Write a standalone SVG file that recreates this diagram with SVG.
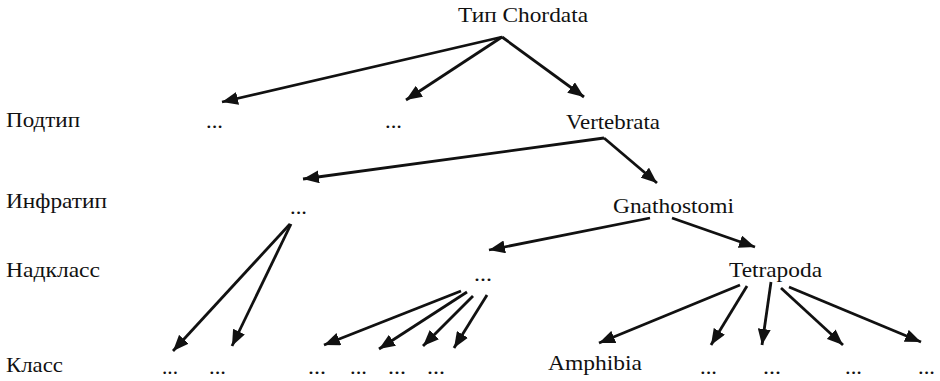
<svg xmlns="http://www.w3.org/2000/svg" width="940" height="381" viewBox="0 0 940 381">
<style>
text{font-family:"Liberation Serif","Times New Roman",serif;font-size:22px;fill:#111}
.c line{stroke:#111;stroke-width:2.8;marker-end:url(#ah)}
</style>
<defs>
<marker id="ah" markerUnits="userSpaceOnUse" markerWidth="16" markerHeight="13" refX="16" refY="6.5" orient="auto">
<path d="M0,0 L16,6.5 L0,13 Z" fill="#111"/>
</marker>
</defs>
<rect width="940" height="381" fill="#fff"/>
<g id="levels">
<text x="6" y="127" textLength="74" lengthAdjust="spacingAndGlyphs">Подтип</text>
<text x="6" y="208" textLength="101" lengthAdjust="spacingAndGlyphs">Инфратип</text>
<text x="6" y="277" textLength="94" lengthAdjust="spacingAndGlyphs">Надкласс</text>
<text x="6" y="372" textLength="57" lengthAdjust="spacingAndGlyphs">Класс</text>
</g>
<g id="chordata"><text x="458" y="22" textLength="130" lengthAdjust="spacingAndGlyphs">Тип Chordata</text></g>
<g id="sub1"><text x="206" y="128" textLength="17" lengthAdjust="spacingAndGlyphs">...</text></g>
<g id="sub2"><text x="385" y="128" textLength="17" lengthAdjust="spacingAndGlyphs">...</text></g>
<g id="vertebrata"><text x="566" y="129" textLength="94" lengthAdjust="spacingAndGlyphs">Vertebrata</text></g>
<g id="infra1"><text x="290" y="214" textLength="17" lengthAdjust="spacingAndGlyphs">...</text></g>
<g id="gnathostomi"><text x="613" y="213" textLength="121" lengthAdjust="spacingAndGlyphs">Gnathostomi</text></g>
<g id="super1"><text x="474" y="281" textLength="18" lengthAdjust="spacingAndGlyphs">...</text></g>
<g id="tetrapoda"><text x="729" y="277" textLength="93" lengthAdjust="spacingAndGlyphs">Tetrapoda</text></g>
<g id="class1"><text x="162" y="374" textLength="16" lengthAdjust="spacingAndGlyphs">...</text></g>
<g id="class2"><text x="209" y="374" textLength="17" lengthAdjust="spacingAndGlyphs">...</text></g>
<g id="class3"><text x="308" y="374" textLength="18" lengthAdjust="spacingAndGlyphs">...</text></g>
<g id="class4"><text x="350" y="374" textLength="17" lengthAdjust="spacingAndGlyphs">...</text></g>
<g id="class5"><text x="388" y="374" textLength="18" lengthAdjust="spacingAndGlyphs">...</text></g>
<g id="class6"><text x="427" y="374" textLength="18" lengthAdjust="spacingAndGlyphs">...</text></g>
<g id="amphibia"><text x="548" y="370" textLength="94" lengthAdjust="spacingAndGlyphs">Amphibia</text></g>
<g id="class7"><text x="700" y="374" textLength="17" lengthAdjust="spacingAndGlyphs">...</text></g>
<g id="class8"><text x="763" y="374" textLength="18" lengthAdjust="spacingAndGlyphs">...</text></g>
<g id="class9"><text x="845" y="374" textLength="17" lengthAdjust="spacingAndGlyphs">...</text></g>
<g id="class10"><text x="918" y="374" textLength="17" lengthAdjust="spacingAndGlyphs">...</text></g>
<g id="connectors" class="c">
<line x1="502" y1="37" x2="222" y2="102"/>
<line x1="502" y1="37" x2="406" y2="100"/>
<line x1="502" y1="37" x2="584" y2="97"/>
<line x1="604" y1="138" x2="303" y2="179"/>
<line x1="604" y1="138" x2="657" y2="183"/>
<line x1="290" y1="224" x2="173" y2="351"/>
<line x1="291" y1="224" x2="232" y2="346"/>
<line x1="650" y1="218" x2="489" y2="250"/>
<line x1="672" y1="218" x2="755" y2="247"/>
<line x1="461" y1="291" x2="324" y2="345"/>
<line x1="467" y1="292" x2="379" y2="349"/>
<line x1="473" y1="296" x2="423" y2="346"/>
<line x1="487" y1="295" x2="454" y2="348"/>
<line x1="740" y1="285" x2="599" y2="343"/>
<line x1="747" y1="286" x2="711" y2="345"/>
<line x1="771" y1="282" x2="762" y2="345"/>
<line x1="781" y1="288" x2="843" y2="345"/>
<line x1="789" y1="287" x2="921" y2="342"/>
</g>
</svg>
